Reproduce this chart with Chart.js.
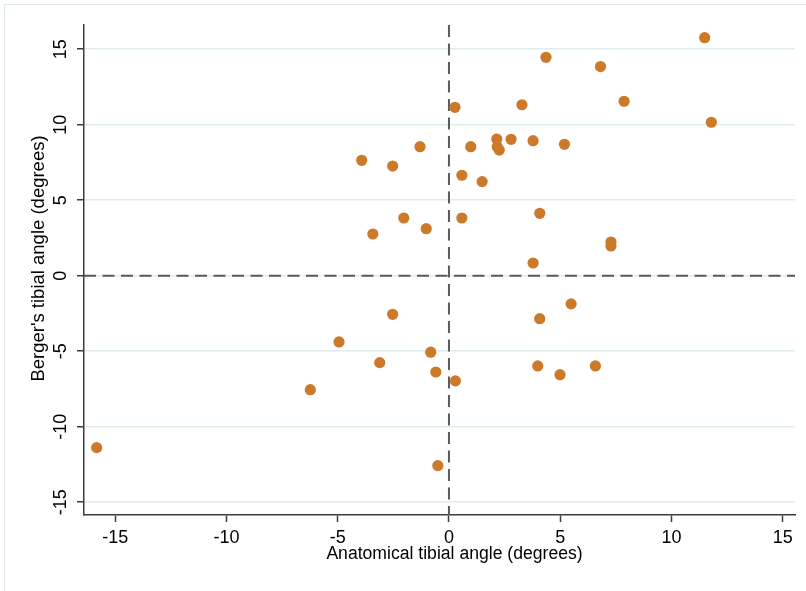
<!DOCTYPE html>
<html>
<head>
<meta charset="utf-8">
<script src="https://cdn.jsdelivr.net/npm/chart.js@4/dist/chart.umd.min.js"></script>
<style>
html, body { margin: 0; padding: 0; background: #ffffff; }
#wrap { width: 806px; height: 591px; position: relative; }
canvas { display: block; }
</style>
</head>
<body>
<div id="wrap"><canvas id="chart" width="806" height="591"></canvas></div>
<script>
// ---- data ----
const anatomicalAngle = [
  -15.83, -6.23, -4.94, -3.11, -2.53, -0.82, -0.59, 0.29, -0.50,
  -3.92, -2.53, -1.30, -2.03, -3.42, -1.02, 0.27, 0.98, 0.58, 0.58,
  1.49, 2.15, 2.17, 2.26, 2.79, 3.28, 3.78, 4.36, 5.19, 4.08, 3.78,
  4.08, 5.49, 3.99, 4.99, 6.58, 6.81, 7.87, 7.28, 7.28, 11.49, 11.79
];
const bergerAngle = [
  -11.39, -7.55, -4.39, -5.76, -2.56, -5.07, -6.38, -6.97, -12.58,
  7.64, 7.26, 8.54, 3.82, 2.76, 3.11, 11.15, 8.54, 6.65, 3.82,
  6.23, 9.05, 8.54, 8.32, 9.03, 11.32, 8.94, 14.46, 8.70, 4.13, 0.84,
  -2.85, -1.87, -5.98, -6.56, -5.98, 13.85, 11.55, 2.23, 1.97, 15.76, 10.16
];
const xTickValues = [-15, -10, -5, 0, 5, 10, 15];
const yTickValues = [-15, -10, -5, 0, 5, 10, 15];
const xRange = [-16.4, 15.55];
const yRange = [-15.85, 16.6];
const referenceLines = { x: 0, y: 0 };
const xTitle = 'Anatomical tibial angle (degrees)';
const yTitle = "Berger's tibial angle (degrees)";

const points = anatomicalAngle.map((v, i) => ({ x: v, y: bergerAngle[i] }));

const FONT = "'Liberation Sans', Arial, sans-serif";
const AXIS = '#3c3c3c';

const decorations = {
  id: 'decorations',
  beforeDraw(chart) {
    const ctx = chart.ctx;
    ctx.save();
    ctx.strokeStyle = '#dde9ec';
    ctx.lineWidth = 1;
    ctx.strokeRect(4.5, 4.5, 1000, 1000);
    ctx.restore();
  },
  beforeDatasetsDraw(chart) {
    const { ctx, chartArea: a, scales } = chart;
    const px = scales.x.getPixelForValue(referenceLines.x);
    const py = scales.y.getPixelForValue(referenceLines.y);
    ctx.save();
    ctx.strokeStyle = '#5a5a5a';
    ctx.lineWidth = 2;
    ctx.setLineDash([12, 6.5]);
    ctx.beginPath();
    ctx.moveTo(a.left, py);
    ctx.lineTo(a.right, py);
    ctx.stroke();
    ctx.beginPath();
    ctx.moveTo(px, a.top);
    ctx.lineTo(px, a.bottom);
    ctx.stroke();
    ctx.restore();
  },
  afterDraw(chart) {
    const { ctx, chartArea: a } = chart;
    ctx.save();
    ctx.fillStyle = '#000000';
    ctx.textAlign = 'center';
    ctx.textBaseline = 'alphabetic';
    ctx.font = '17.6px ' + FONT;
    ctx.fillText(xTitle, (a.left + a.right) / 2 + 15, 558.5);
    ctx.translate(44, (a.top + a.bottom) / 2 - 11.5);
    ctx.rotate(-Math.PI / 2);
    ctx.font = '18.5px ' + FONT;
    ctx.fillText(yTitle, 0, 0);
    ctx.restore();
  }
};

new Chart(document.getElementById('chart'), {
  type: 'scatter',
  data: {
    datasets: [{
      label: yTitle,
      data: points,
      backgroundColor: '#cc7a29',
      borderWidth: 0,
      pointRadius: 5.6,
      pointHoverRadius: 5.6
    }]
  },
  options: {
    responsive: false,
    animation: false,
    devicePixelRatio: 1,
    events: [],
    layout: { padding: { top: 25, right: 11, left: 0, bottom: 0 } },
    plugins: { legend: { display: false }, tooltip: { enabled: false } },
    scales: {
      x: {
        type: 'linear',
        position: 'bottom',
        min: xRange[0],
        max: xRange[1],
        afterBuildTicks: s => { s.ticks = xTickValues.map(v => ({ value: v })); },
        afterFit: s => { s.height = 76; },
        grid: { drawOnChartArea: false, drawTicks: true, tickLength: 7, tickColor: AXIS, tickWidth: 1.5 },
        border: { display: true, color: AXIS, width: 1.5 },
        ticks: {
          color: '#000000',
          font: { family: FONT, size: 18 },
          padding: 5.5,
          minRotation: 0, maxRotation: 0,
          autoSkip: false,
          callback: v => String(v)
        }
      },
      y: {
        type: 'linear',
        position: 'left',
        min: yRange[0],
        max: yRange[1],
        afterBuildTicks: s => { s.ticks = yTickValues.map(v => ({ value: v })); },
        afterFit: s => { s.width = 84; },
        grid: { color: '#dfecee', lineWidth: 1.5, drawTicks: true, tickLength: 7, tickColor: AXIS, tickWidth: 1.5 },
        border: { display: true, color: AXIS, width: 1.5 },
        ticks: {
          color: '#000000',
          font: { family: FONT, size: 18 },
          padding: 3,
          minRotation: 90, maxRotation: 90,
          crossAlign: 'center',
          autoSkip: false,
          callback: v => String(v)
        }
      }
    }
  },
  plugins: [decorations]
});
</script>
</body>
</html>
